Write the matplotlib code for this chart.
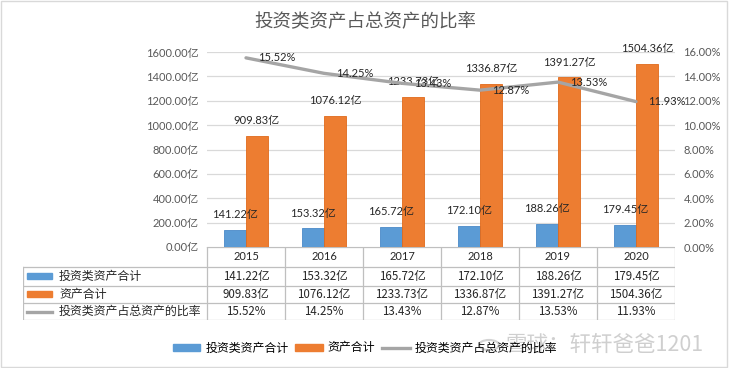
import matplotlib.pyplot as plt
from matplotlib.patches import Rectangle, Circle
from matplotlib.lines import Line2D
import numpy as np

plt.rcParams['font.family'] = ['Lato', 'Noto Sans CJK SC']

# Data
years = ['2015', '2016', '2017', '2018', '2019', '2020']
invest = [141.22, 153.32, 165.72, 172.10, 188.26, 179.45]      # 亿
total = [909.83, 1076.12, 1233.73, 1336.87, 1391.27, 1504.36]   # 亿
ratio = [15.52, 14.25, 13.43, 12.87, 13.53, 11.93]              # %
series_names = ['投资类资产合计', '资产合计', '投资类资产占总资产的比率']

blue = '#5B9BD5'
orange = '#ED7D31'
gray = '#A5A5A5'
txt = '#595959'

W, H = 730, 368
fig = plt.figure(figsize=(W / 100, H / 100), dpi=100)

def px(l, t, r, b):
    return [l / W, 1 - b / H, (r - l) / W, (b - t) / H]

ax = fig.add_axes(px(207, 52, 675, 247))
x = np.arange(len(years))
bw = 0.282
b1 = ax.bar(x - bw / 2, invest, bw, color=blue, edgecolor='#4A8AC8', linewidth=0.6)
b2 = ax.bar(x + bw / 2, total, bw, color=orange, edgecolor='#E06A1B', linewidth=0.6)
ax.set_xlim(-0.5, 5.5)
ax.set_ylim(0, 1600)
ax.set_yticks(np.arange(0, 1601, 200))
ax.set_yticklabels([f'{v:.2f}亿' for v in np.arange(0, 1601, 200)], fontsize=8, color=txt)
ax.set_xticks([])
ax.tick_params(length=0, pad=6)
ax.grid(axis='y', color='#D9D9D9', linewidth=0.9)
ax.set_axisbelow(True)
for s in ax.spines.values():
    s.set_visible(False)

for bars, vals in ((b1, invest), (b2, total)):
    for bar, v in zip(bars, vals):
        ax.annotate(f'{v:.2f}亿', xy=(bar.get_x() + bar.get_width() / 2, v),
                    xytext=(0, 11), textcoords='offset points', ha='center', va='center',
                    fontsize=8, color='#262626')

ax2 = ax.twinx()
ln, = ax2.plot(x, np.array(ratio) / 100, color=gray, linewidth=2.4, solid_capstyle='round')
ax2.set_ylim(0, 0.16)
ax2.set_yticks(np.arange(0, 0.161, 0.02))
ax2.set_yticklabels([f'{v * 100:.2f}%' for v in np.arange(0, 0.161, 0.02)], fontsize=8, color=txt)
ax2.tick_params(length=0, pad=6)
for s in ax2.spines.values():
    s.set_visible(False)
for xi, r in zip(x, ratio):
    ax2.annotate(f'{r:.2f}%', xy=(xi, r / 100), xytext=(9, 0), textcoords='offset points',
                 ha='left', va='center', fontsize=8, color='#262626')

# Title
fig.text(0.5, 1 - 22 / H, '投资类资产占总资产的比率', ha='center', va='center',
         fontsize=13.3, color=txt, family=['Noto Sans CJK SC'])

# Data table below the plot
tab = fig.add_axes(px(23, 247, 675, 320))
left = -0.5 - (207 - 23) / 78
tab.set_xlim(left, 5.5)
tab.set_ylim(73, 0)
tab.axis('off')
lc = '#BFBFBF'
rows_y = [20, 38.5, 56, 73]
tab.plot([-0.5, 5.5], [0, 0], color='#BFBFBF', linewidth=0.9)
for yy in rows_y:
    tab.plot([left, 5.5], [yy, yy], color=lc, linewidth=0.9)
tab.plot([left, left], [20, 73], color=lc, linewidth=0.9)
for xb in np.arange(-0.5, 6.0, 1.0):
    tab.plot([xb, xb], [0, 73], color=lc, linewidth=0.9)
for xi, yr in zip(x, years):
    tab.text(xi, 10, yr, ha='center', va='center', fontsize=8, color='#262626')
row_vals = [[f'{v:.2f}亿' for v in invest], [f'{v:.2f}亿' for v in total],
            [f'{v:.2f}%' for v in ratio]]
row_c = [(rows_y[0] + rows_y[1]) / 2, (rows_y[1] + rows_y[2]) / 2, (rows_y[2] + rows_y[3]) / 2]
kx0 = (27 - 207) / 78 - 0.5
kx1 = (52 - 207) / 78 - 0.5
for i, (name, vals) in enumerate(zip(series_names, row_vals)):
    yc = row_c[i]
    for xi, s in zip(x, vals):
        tab.text(xi, yc, s, ha='center', va='center', fontsize=8.3, color='#262626',
                 family=['Noto Sans CJK SC'])
    if i < 2:
        tab.add_patch(Rectangle((kx0, yc - 3), kx1 - kx0, 6, color=[blue, orange][i]))
    else:
        tab.plot([kx0, kx1], [yc, yc], color=gray, linewidth=2.4)
    tab.text((59 - 207) / 78 - 0.5, yc, name, ha='left', va='center', fontsize=8.6,
             color='#262626', family=['Noto Sans CJK SC'])

# Legend
handles = [Rectangle((0, 0), 1, 1, color=blue), Rectangle((0, 0), 1, 1, color=orange),
           Line2D([], [], color=gray, linewidth=2.4)]
fig.legend(handles, series_names, loc='center', bbox_to_anchor=(0.5, 1 - 348 / H),
           ncol=3, frameon=False, prop={'family': 'Noto Sans CJK SC', 'size': 8.6},
           handlelength=2.3, handleheight=0.55, handletextpad=0.4, columnspacing=0.6)

# Watermark
fig.patches.append(Circle((489 / W, 1 - 345 / H), 10 / W, transform=fig.transFigure,
                          fill=False, edgecolor='#C8C8C8', linewidth=1.5, alpha=0.8))
fig.text(604 / W, 1 - 345 / H, '雪球：轩轩爸爸1201', ha='center', va='center', fontsize=15.5,
         color='#BBBBBB', alpha=0.7, family=['Noto Sans CJK SC'])

# Outer border
fig.patches.append(Rectangle((0.002, 0.004), 0.994, 0.993, transform=fig.transFigure,
                             fill=False, edgecolor='#D9D9D9', linewidth=1))

plt.savefig('out.png', dpi=100)
